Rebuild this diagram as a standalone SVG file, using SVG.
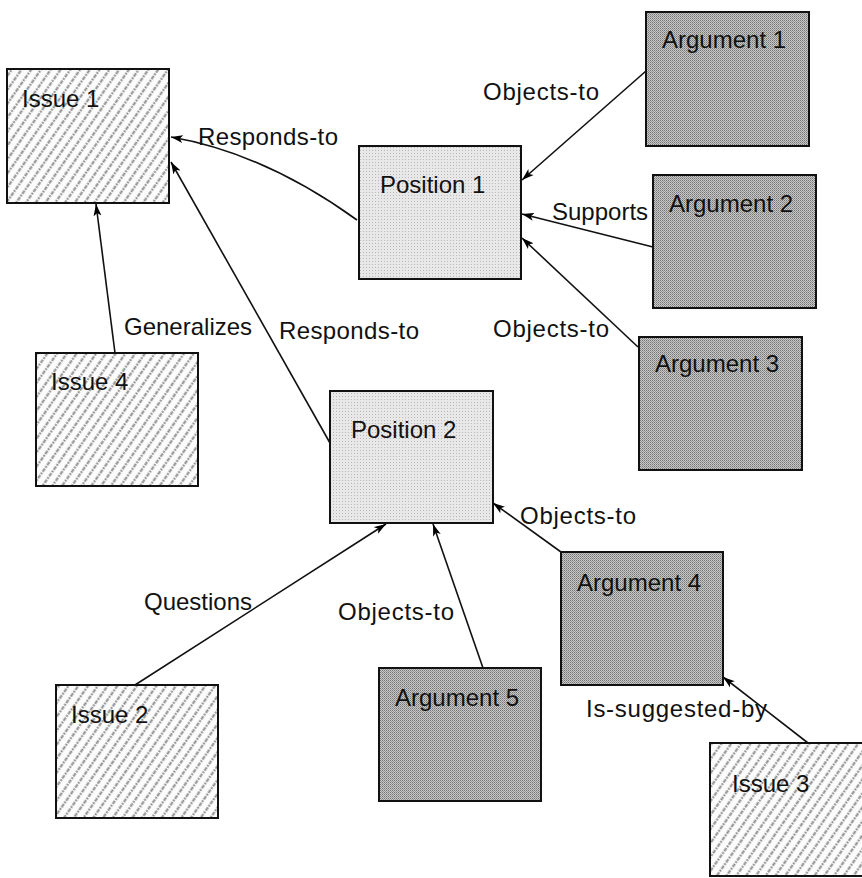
<svg xmlns="http://www.w3.org/2000/svg" width="862" height="878" viewBox="0 0 862 878">
<defs>
<pattern id="hatch" width="8" height="8" patternUnits="userSpaceOnUse" patternTransform="rotate(35)">
<rect width="8" height="8" fill="#fcfcfc"/>
<line x1="1.5" y1="0" x2="1.5" y2="8" stroke="#8c8c8c" stroke-width="2" stroke-dasharray="2 1"/>
</pattern>
<pattern id="light" width="3" height="3" patternUnits="userSpaceOnUse">
<rect width="3" height="3" fill="#e8e8e8"/>
<rect x="0" y="0" width="1" height="1" fill="#b8b8b8"/>
</pattern>
<pattern id="dark" width="2" height="2" patternUnits="userSpaceOnUse">
<rect width="2" height="2" fill="#c8c8c8"/>
<rect x="0" y="0" width="1" height="1" fill="#747474"/>
<rect x="1" y="1" width="1" height="1" fill="#949494"/>
</pattern>
<marker id="arr" markerUnits="userSpaceOnUse" markerWidth="13" markerHeight="9" refX="12" refY="4.5" orient="auto">
<path d="M0,0.5 L12,4.5 L0,8.5 L3,4.5 z" fill="#000"/>
</marker>
</defs>
<style>
.box{stroke:#111;stroke-width:2}
.issue{fill:url(#hatch)}
.pos{fill:url(#light)}
.arg{fill:url(#dark)}
text{font-family:"Liberation Sans",Arial,sans-serif;font-size:24px;fill:#111}
.c{fill:none;stroke:#111;stroke-width:1.6;marker-end:url(#arr)}
</style>
<g id="connectors">
<path class="c" d="M357,220 Q264,153 171,137"/>
<path class="c" d="M330,443 L171,162"/>
<path class="c" d="M115,353 L96,204"/>
<path class="c" d="M646,71 L522,180"/>
<path class="c" d="M653,247 L522,214"/>
<path class="c" d="M638,347 L522,238"/>
<path class="c" d="M135,685 L386,524"/>
<path class="c" d="M483,668 L433,524"/>
<path class="c" d="M561,552 L493,503"/>
<path class="c" d="M808,743 L723,677"/>
<text x="198" y="145" textLength="140" lengthAdjust="spacing">Responds-to</text>
<text x="279" y="339" textLength="140" lengthAdjust="spacing">Responds-to</text>
<text x="124" y="335">Generalizes</text>
<text x="483" y="100" textLength="116" lengthAdjust="spacing">Objects-to</text>
<text x="552" y="220">Supports</text>
<text x="493" y="337" textLength="116" lengthAdjust="spacing">Objects-to</text>
<text x="144" y="610">Questions</text>
<text x="338" y="620" textLength="116" lengthAdjust="spacing">Objects-to</text>
<text x="520" y="524" textLength="116" lengthAdjust="spacing">Objects-to</text>
<text x="586" y="717" textLength="181" lengthAdjust="spacing">Is-suggested-by</text>
</g>
<g id="issue1"><rect class="box issue" x="7" y="69" width="162" height="134"/><text x="22" y="107">Issue 1</text></g>
<g id="position1"><rect class="box pos" x="359" y="146" width="162" height="133"/><text x="380" y="193">Position 1</text></g>
<g id="argument1"><rect class="box arg" x="646" y="12" width="163" height="134"/><text x="662" y="48">Argument 1</text></g>
<g id="argument2"><rect class="box arg" x="653" y="175" width="163" height="133"/><text x="669" y="212">Argument 2</text></g>
<g id="argument3"><rect class="box arg" x="639" y="337" width="163" height="133"/><text x="655" y="372">Argument 3</text></g>
<g id="issue4"><rect class="box issue" x="36" y="353" width="162" height="133"/><text x="51" y="390">Issue 4</text></g>
<g id="position2"><rect class="box pos" x="330" y="391" width="163" height="132"/><text x="351" y="438">Position 2</text></g>
<g id="argument4"><rect class="box arg" x="561" y="552" width="162" height="133"/><text x="577" y="591">Argument 4</text></g>
<g id="argument5"><rect class="box arg" x="379" y="668" width="162" height="133"/><text x="395" y="706">Argument 5</text></g>
<g id="issue2"><rect class="box issue" x="56" y="685" width="162" height="133"/><text x="71" y="723">Issue 2</text></g>
<g id="issue3"><rect class="box issue" x="710" y="743" width="162" height="133"/><text x="732" y="792">Issue 3</text></g>
</svg>
